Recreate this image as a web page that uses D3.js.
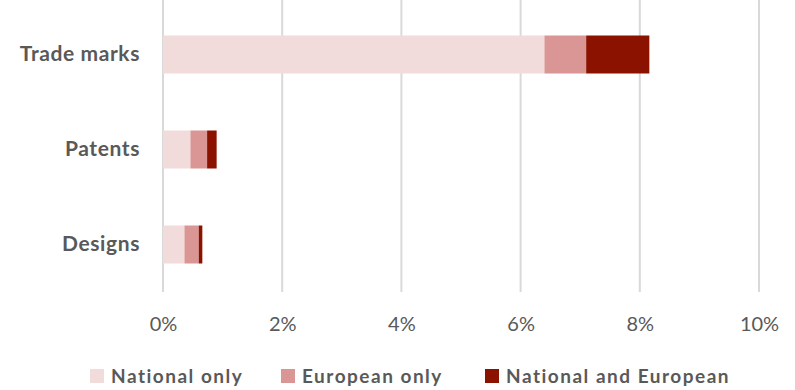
<!DOCTYPE html>
<html>
<head>
<meta charset="utf-8">
<script src="https://cdn.jsdelivr.net/npm/d3@7"></script>
<style>
  body { margin: 0; background: #fff; }
  text { font-family: Lato, "Open Sans", sans-serif; fill: #595959; }
</style>
</head>
<body>
<script>
// data
var categories = ["Trade marks", "Patents", "Designs"];
var seriesNames = ["National only", "European only", "National and European"];
var nationalOnly = [6.40, 0.46, 0.36];
var europeanOnly = [0.70, 0.28, 0.24];
var nationalAndEuropean = [1.06, 0.16, 0.06];
var xTicks = [0, 2, 4, 6, 8, 10];
var colors = ["#f2dcdb", "#da9694", "#8c1200"];

var w = 795,
  h = 390;
var margin = { left: 163, right: 36, top: 7, bottom: 98 };

var svg = d3.select("body").append("svg").attr("width", w).attr("height", h);

var rows = categories.map(function (c, i) {
  return {
    cat: c,
    "National only": nationalOnly[i],
    "European only": europeanOnly[i],
    "National and European": nationalAndEuropean[i]
  };
});
var stacked = d3.stack().keys(seriesNames)(rows);

var xScale = d3.scaleLinear().domain([0, 10]).range([margin.left, w - margin.right]);
var yScale = d3
  .scaleBand()
  .domain(categories)
  .range([margin.top, h - margin.bottom])
  .paddingInner(0.6)
  .paddingOuter(0.3);

// gridlines
svg
  .append("g")
  .selectAll("line")
  .data(xTicks)
  .enter()
  .append("line")
  .attr("x1", function (d) { return xScale(d); })
  .attr("x2", function (d) { return xScale(d); })
  .attr("y1", margin.top - 7)
  .attr("y2", h - margin.bottom)
  .attr("stroke", "#d9d9d9")
  .attr("stroke-width", 2);

// bars
svg
  .append("g")
  .selectAll("g")
  .data(stacked)
  .enter()
  .append("g")
  .attr("fill", function (d, i) { return colors[i]; })
  .selectAll("rect")
  .data(function (d) { return d; })
  .enter()
  .append("rect")
  .attr("x", function (d) { return xScale(d[0]); })
  .attr("width", function (d) { return xScale(d[1]) - xScale(d[0]); })
  .attr("y", function (d) { return yScale(d.data.cat); })
  .attr("height", yScale.bandwidth());

// x axis
var xAxis = d3
  .axisBottom(xScale)
  .tickValues(xTicks)
  .tickSize(0)
  .tickPadding(0)
  .tickFormat(function (d) { return d + "%"; });
var gx = svg
  .append("g")
  .attr("transform", "translate(0," + (h - margin.bottom + 25) + ")")
  .call(xAxis);
gx.select(".domain").remove();
gx.selectAll("text").attr("font-size", 20).attr("fill", "#595959").attr("font-family", "Lato");

// y axis
var yAxis = d3.axisLeft(yScale).tickSize(0).tickPadding(23);
var gy = svg.append("g").attr("transform", "translate(" + margin.left + ",0)").call(yAxis);
gy.select(".domain").remove();
gy.selectAll("text")
  .attr("font-size", 21)
  .attr("font-weight", "bold")
  .attr("letter-spacing", 0.6)
  .attr("fill", "#595959")
  .attr("font-family", "Lato");

// legend
var legendX = [90, 281, 485];
var legend = svg
  .append("g")
  .selectAll("g")
  .data(seriesNames)
  .enter()
  .append("g")
  .attr("transform", function (d, i) { return "translate(" + legendX[i] + ",369)"; });
legend
  .append("rect")
  .attr("width", 14)
  .attr("height", 14)
  .attr("fill", function (d, i) { return colors[i]; });
legend
  .append("text")
  .attr("x", 21)
  .attr("y", 7)
  .attr("dy", "0.35em")
  .attr("font-size", 19)
  .attr("font-weight", "bold")
  .attr("letter-spacing", 1.5)
  .text(function (d) { return d; });
</script>
</body>
</html>
